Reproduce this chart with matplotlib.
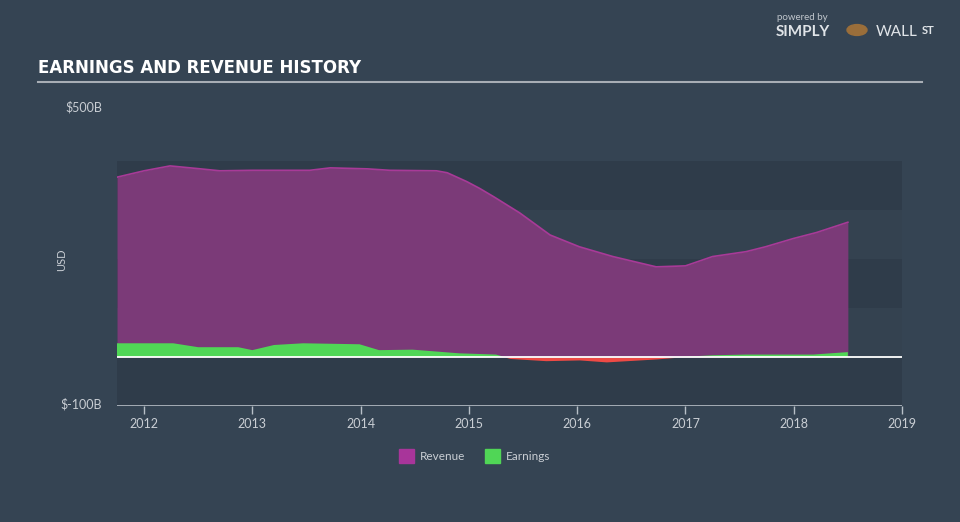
import numpy as np
import matplotlib.pyplot as plt

# values in $B
rev_t = [2011.75, 2012.0, 2012.24, 2012.52, 2012.7, 2013.0, 2013.53, 2013.72, 2014.06,
         2014.27, 2014.7, 2014.8, 2014.98, 2015.1, 2015.23, 2015.47, 2015.75, 2016.02,
         2016.33, 2016.73, 2017.0, 2017.25, 2017.56, 2017.74, 2018.0, 2018.21, 2018.5]
revenue = [367, 380, 390, 384, 380, 381, 381, 386, 384,
           381, 380, 376, 358, 344, 327, 294, 249, 225,
           205, 184, 186, 205, 215, 225, 242, 254, 275]

earn_t = [2011.75, 2012.27, 2012.5, 2012.87, 2013.0, 2013.2, 2013.47, 2013.99, 2014.17,
          2014.48, 2014.91, 2015.25, 2015.33, 2015.38, 2015.71, 2016.02, 2016.27, 2016.73,
          2016.95, 2017.25, 2017.56, 2018.18, 2018.5]
earnings = [28, 28, 20, 20, 14, 24.5, 28, 26, 14,
            15, 7.5, 5, 0, -3, -7.5, -6, -10, -4,
            0, 3.5, 5, 5, 10]

years = [2012, 2013, 2014, 2015, 2016, 2017, 2018, 2019]

bg = '#354453'
band_dark = '#2f3c4a'
band_light = '#344250'
text_col = '#c9ced4'

fig = plt.figure(figsize=(9.6, 5.22), dpi=100)
fig.patch.set_facecolor(bg)
ax = fig.add_axes([117 / 960, 1 - 406 / 522, 785 / 960, 294 / 522])
ax.set_facecolor('none')

# background bands
for i, lo in enumerate(range(-100, 400, 100)):
    ax.axhspan(lo, lo + 100, color=band_dark if i % 2 == 0 else band_light, lw=0, zorder=0)

ax.fill_between(rev_t, revenue, 0, color='#7b3a78', lw=0, zorder=2)
ax.plot(rev_t, revenue, color='#a83a98', lw=1.2, zorder=3)

et = np.array(earn_t)
ev = np.array(earnings, dtype=float)
ax.fill_between(et, ev, 0, where=ev >= 0, interpolate=True, color='#50d656', lw=0, zorder=4)
ax.fill_between(et, ev, 0, where=ev <= 0, interpolate=True, color='#ee4a45', lw=0, zorder=4)

ax.axhline(0, color='white', lw=1.3, zorder=5)
ax.axhline(-100, color='#b8c0c8', lw=1.2, zorder=5)

ax.set_xlim(2011.75, 2019)
ax.set_ylim(-100, 500)
for s in ax.spines.values():
    s.set_visible(False)
ax.set_yticks([])
ax.set_xticks(years)
ax.set_xticklabels([str(y) for y in years], color=text_col, fontsize=9, family='Lato')
ax.tick_params(axis='x', length=6, width=1, color='#b8c0c8', pad=3)

fig.text(102 / 960, 1 - 107 / 522, '$500B', ha='right', va='center', color=text_col, fontsize=9, family='Lato')
fig.text(102 / 960, 1 - 404 / 522, '$-100B', ha='right', va='center', color=text_col, fontsize=9, family='Lato')
fig.text(62 / 960, 1 - 260 / 522, 'USD', ha='center', va='center', rotation=90, color=text_col, fontsize=8, family='Lato')

fig.text(38 / 960, 1 - 68 / 522, 'EARNINGS AND REVENUE HISTORY', ha='left', va='center', color='white',
         fontsize=12, weight='bold', family=['Liberation Sans Narrow', 'DejaVu Sans'])
fig.add_artist(plt.Line2D([38 / 960, 922 / 960], [1 - 82 / 522, 1 - 82 / 522], color='#a8aeb5', lw=1.5))

# legend
fig.patches.append(plt.Rectangle((399 / 960, 1 - 463 / 522), 15 / 960, 14 / 522, color='#a8359a',
                                 transform=fig.transFigure, figure=fig))
fig.text(420 / 960, 1 - 456 / 522, 'Revenue', ha='left', va='center', color=text_col, fontsize=8.5, family='Lato')
fig.patches.append(plt.Rectangle((485 / 960, 1 - 463 / 522), 15 / 960, 14 / 522, color='#50d656',
                                 transform=fig.transFigure, figure=fig))
fig.text(506 / 960, 1 - 456 / 522, 'Earnings', ha='left', va='center', color=text_col, fontsize=8.5, family='Lato')

# logo text
fig.text(777 / 960, 1 - 17 / 522, 'powered by', ha='left', va='center', color='#c0c6cc', fontsize=7, family='Lato')
fig.text(776 / 960, 1 - 32 / 522, 'SIMPLY', ha='left', va='center', color='#e0e4e8', fontsize=11, weight='bold', family='Lato')
fig.text(876 / 960, 1 - 32 / 522, 'WALL', ha='left', va='center', color='#e0e4e8', fontsize=11, family='Lato')
fig.text(922 / 960, 1 - 30 / 522, 'ST', ha='left', va='center', color='#e0e4e8', fontsize=8, weight='bold', family='Lato')
fig.patches.append(plt.Circle((857 / 960, 1 - 30 / 522), 10 / 960, color='#9a6e3a', transform=fig.transFigure, figure=fig))

fig.savefig('out.png', dpi=100, facecolor=bg)
